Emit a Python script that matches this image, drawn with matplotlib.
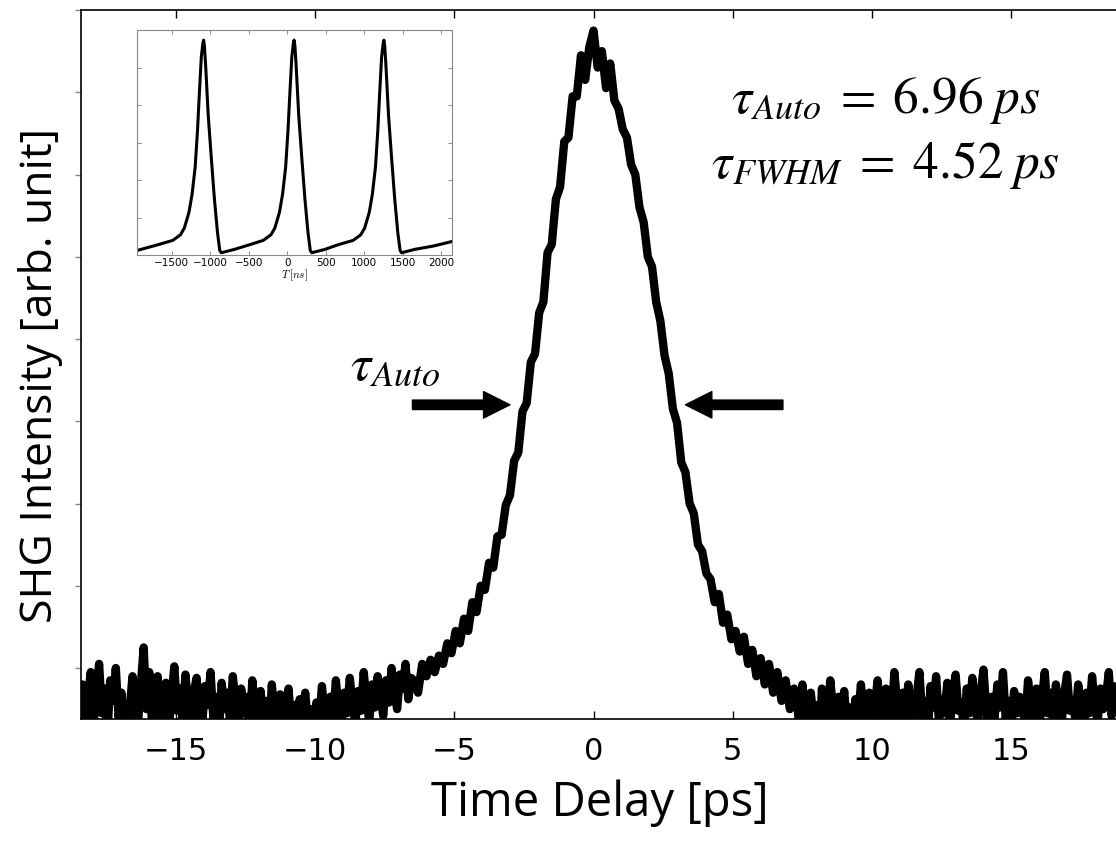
import numpy as np
import matplotlib

matplotlib.use("Agg")

import matplotlib.pyplot as plt

# ----- main trace: SHG autocorrelation (arb. units, 1 unit = 1 y tick) -----
# left background, 0.1 ps sampling from -18.45 ps
left_start, left_step = -18.45, 0.1
shg_left = [
    -0.45, -0.20, -0.62, -0.35, -0.05, -0.70, -0.30, 0.05, -0.55, -0.25,
    -0.80, -0.15, -0.40, 0.00, -0.60, -0.30, -0.72, -1.00, -0.48, -0.10,
    -0.38, -0.65, -0.20, 0.25, -0.50, -0.05, -0.68, -0.30, -0.10, -0.58,
    -0.40, -0.18, -0.75, -0.35, 0.02, -0.52, -0.25, -0.62, -0.08, -0.45,
    -0.85, -0.30, -0.12, -0.55, -0.70, -0.22, -0.45, -0.05, -0.60, -0.35,
    -0.78, -0.18, -0.50, -0.30, -0.65, -0.10, -0.42, -0.72, -0.25, -0.55,
    -0.35, -0.80, -0.15, -0.48, -0.62, -0.28, -0.70, -0.40, -0.88, -0.20,
    -0.55, -0.65, -0.32, -0.75, -0.50, -0.25, -0.68, -0.45, -0.82, -0.38,
    -0.60, -0.30, -0.72, -0.50, -0.85, -0.42, -0.65, -0.22, -0.58, -0.78,
    -0.35, -0.62, -0.15, -0.50, -0.70, -0.30, -0.55, -0.12, -0.45, -0.68,
    -0.28, -0.52, -0.05, -0.40, -0.65, -0.20, -0.48, -0.10, -0.35, -0.58,
    -0.15, -0.42, 0.00, -0.30, -0.50, -0.08, -0.25, 0.05, -0.38, -0.12,
]
# central peak, 0.15 ps sampling from -6.45 ps
peak_start, peak_step = -6.45, 0.15
shg_peak = [
    -0.15, -0.30, 0.05, -0.10, 0.10, -0.05, 0.15, 0.05, 0.30, 0.18,
    0.45, 0.30, 0.60, 0.45, 0.80, 0.68, 1.00, 0.95, 1.28, 1.22,
    1.60, 1.62, 1.98, 2.10, 2.52, 2.62, 3.12, 3.22, 3.72, 3.82,
    4.32, 4.45, 5.05, 5.15, 5.70, 5.85, 6.40, 6.45, 6.95, 6.95,
    7.45, 7.15, 7.55, 7.75, 7.30, 7.50, 7.05, 7.35, 6.90, 6.80,
    6.55, 6.45, 6.12, 6.00, 5.60, 5.42, 5.00, 4.88, 4.45, 4.22,
    3.80, 3.58, 3.15, 2.98, 2.50, 2.38, 2.00, 1.88, 1.50, 1.42,
    1.15, 1.08, 0.80, 0.90, 0.55, 0.65, 0.35, 0.45, 0.20, 0.38,
    0.05, 0.22, -0.10, 0.12, -0.20, 0.05, -0.30, -0.05, -0.40, -0.15,
    -0.50, -0.25,
]
# right background, 0.1 ps sampling from 7.3 ps
right_start, right_step = 7.3, 0.1
shg_right = [
    -0.40, -0.75, -0.20, -0.55, -0.85, -0.30, -0.62, -0.45, -1.00, -0.25,
    -0.58, -0.70, -0.15, -0.50, -0.82, -0.35, -0.60, -0.28, -0.72, -0.48,
    -0.90, -0.38, -0.62, -0.20, -0.55, -1.00, -0.30, -0.68, -0.45, -0.15,
    -0.58, -0.78, -0.25, -0.50, -0.65, -0.05, -0.42, -0.85, -0.30, -0.60,
    -0.20, -0.50, -0.72, -0.35, -0.05, -0.58, -0.40, -0.80, -0.22, -0.48,
    -0.10, -0.65, -0.38, -0.55, -0.18, -0.70, -0.30, -0.08, -0.52, -0.42,
    -0.75, -0.25, -0.55, -0.12, -0.45, -0.68, -0.30, -0.02, -0.50, -0.80,
    -0.35, -0.60, -0.20, -0.48, -0.05, -0.62, -0.40, -0.72, -0.28, -0.55,
    -0.35, -0.50, -0.68, -0.15, -0.42, -0.60, -0.25, -0.75, -0.38, -0.05,
    -0.55, -0.30, -0.65, -0.20, -0.48, -0.70, -0.32, -0.08, -0.52, -0.40,
    -0.62, -0.20, -0.45, -0.72, -0.30, -0.55, -0.10, -0.48, -0.65, -0.25,
    -0.50, -0.35, -0.05, -0.58, -0.40, -0.22, -0.50,
]

# ----- inset: pulse train vs time [ns] -----
inset_t = [
    -1950, -1685, -1485, -1385, -1335, -1275, -1235, -1195, -1165, -1140,
    -1115, -1095, -1085, -1075, -1060, -1025, -985, -945, -905, -875,
    -855, -685,
    -495, -310, -210, -160, -100, -60, -20, 10, 35, 60,
    80, 90, 100, 115, 150, 190, 230, 270, 300, 320, 490,
    656, 856, 956, 1006, 1066, 1106, 1146, 1176, 1201, 1226,
    1246, 1256, 1266, 1281, 1316, 1356, 1396, 1436, 1466, 1486,
    1656, 1900, 2140,
]
inset_y = [
    0.02, 0.045, 0.065, 0.09, 0.12, 0.19, 0.27, 0.39, 0.55, 0.72,
    0.88, 0.94, 0.955, 0.93, 0.85, 0.62, 0.43, 0.25, 0.10, 0.02,
    0.01, 0.025,
    0.045, 0.065, 0.09, 0.12, 0.19, 0.27, 0.39, 0.55, 0.72, 0.88,
    0.94, 0.955, 0.93, 0.85, 0.62, 0.43, 0.25, 0.10, 0.02, 0.01, 0.025,
    0.045, 0.065, 0.09, 0.12, 0.19, 0.27, 0.39, 0.55, 0.72, 0.88,
    0.94, 0.955, 0.93, 0.85, 0.62, 0.43, 0.25, 0.10, 0.02, 0.01,
    0.025, 0.04, 0.06,
]

y_tick_vals = list(range(0, 9))
x_tick_vals = [-15, -10, -5, 0, 5, 10, 15]
inset_xticks = [-1500, -1000, -500, 0, 500, 1000, 1500, 2000]

tau_auto = 6.96
tau_fwhm = 4.52

delay = np.concatenate([
    left_start + left_step * np.arange(len(shg_left)),
    peak_start + peak_step * np.arange(len(shg_peak)),
    right_start + right_step * np.arange(len(shg_right)),
])
shg = np.array(shg_left + shg_peak + shg_right)

plt.rcParams["mathtext.fontset"] = "stix"

fig = plt.figure(figsize=(11.16, 8.48), dpi=100)
ax = fig.add_axes([81 / 1116, 129 / 848, 1037 / 1116, 709 / 848])

ax.plot(delay, shg, color="black", linewidth=6, solid_joinstyle="round")

ax.set_xlim(-18.4, 18.83)
ax.set_ylim(-0.62, 8.0)
ax.set_xticks(x_tick_vals)
ax.set_yticks(y_tick_vals)
ax.set_yticklabels([])
ax.tick_params(axis="x", direction="in", length=6, width=1, top=True,
               labelsize=22, pad=13)
ax.tick_params(axis="y", direction="out", length=4, width=1, color="#888888",
               right=True)
for s in ax.spines.values():
    s.set_linewidth(1.2)

ax.set_xlabel("Time Delay [ps]", fontsize=34, family="Open Sans", labelpad=10)
ax.set_ylabel("SHG Intensity [arb. unit]", fontsize=32, family="Open Sans")
ax.yaxis.set_label_coords(-0.017, 0.485)

# width arrows
arrow_y = 3.2
arrow_kw = dict(arrowstyle="simple,head_length=0.95,head_width=0.95,tail_width=0.34",
                color="black", mutation_scale=20, shrinkA=0, shrinkB=0)
ax.annotate("", xy=(-3.0, arrow_y), xytext=(-6.5, arrow_y), arrowprops=arrow_kw)
ax.annotate("", xy=(3.3, arrow_y), xytext=(6.8, arrow_y), arrowprops=arrow_kw)

ax.text(-7.13, 3.67, r"$\tau_{Auto}$", fontsize=37, ha="center", va="center")
ax.text(10.47, 6.9, r"$\tau_{Auto}\;=\;%.2f\;ps$" % tau_auto, fontsize=37,
        ha="center", va="center")
ax.text(10.47, 6.12, r"$\tau_{FWHM}\;=\;%.2f\;ps$" % tau_fwhm, fontsize=37,
        ha="center", va="center")

# inset
axi = fig.add_axes([137 / 1116, 593 / 848, 315 / 1116, 225 / 848])
axi.plot(inset_t, inset_y, color="black", linewidth=2.2)
axi.set_xlim(-1950, 2140)
axi.set_ylim(0, 1)
axi.set_xticks(inset_xticks)
axi.set_yticks([1 / 6, 2 / 6, 3 / 6, 4 / 6, 5 / 6])
axi.set_yticklabels([])
axi.tick_params(direction="in", length=3, width=0.6, color="#777777",
                top=True, right=True, labelsize=7.5, pad=2)
axi.set_xlabel(r"$T\,[ns]$", fontsize=8, labelpad=0, math_fontfamily="cm")
for s in axi.spines.values():
    s.set_color("#888888")
    s.set_linewidth(0.8)

fig.savefig("out.png", dpi=100)
